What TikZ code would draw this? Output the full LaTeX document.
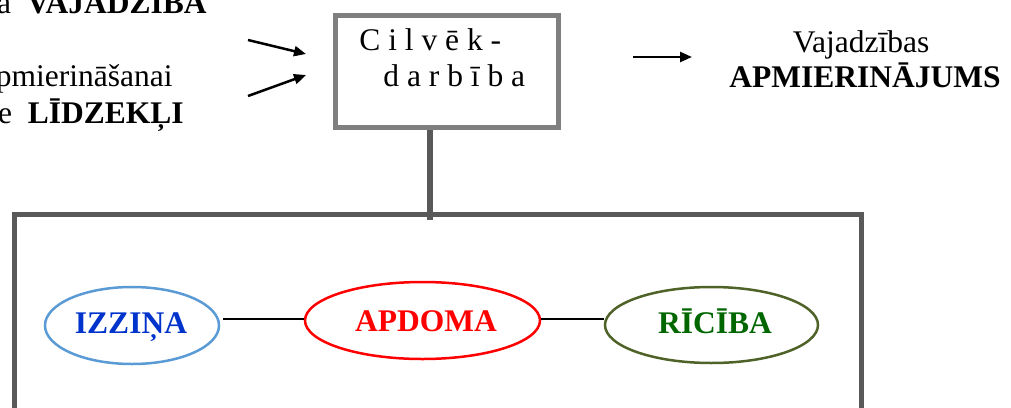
\documentclass[tikz,border=0pt]{standalone}
\usepackage{fontspec}
\setmainfont{Liberation Serif}
\usetikzlibrary{arrows.meta,shapes.geometric}
\definecolor{boxgray}{HTML}{7F7F7F}
\definecolor{darkgray}{HTML}{595959}
\definecolor{izblue}{HTML}{0033CC}
\definecolor{izborder}{HTML}{5B9BD5}
\definecolor{ricgreen}{HTML}{006600}
\definecolor{ricborder}{HTML}{4F6228}
\tikzset{
  txt/.style={inner sep=0pt, font=\fontsize{15.75}{18}\selectfont},
  arr/.style={line width=1.25pt, -{Triangle[length=6pt,width=5pt]}},
  oval/.style={ellipse, line width=1.25pt, inner sep=0pt},
  ovaltxt/.style={inner sep=0pt, anchor=base, font=\fontsize{15.75}{18}\selectfont\bfseries},
  link/.style={line width=1pt, black}
}
\begin{document}
\begin{tikzpicture}[x=0.5pt,y=-0.5pt]
\useasboundingbox (0,0) rectangle (1011,407);
% left texts
\node[txt, anchor=base east] (need) at (207,13) {a\ \ \textbf{VAJADZĪBA}};
\node[txt, anchor=base east] (satisf) at (173,86) {apmierināšanai};
\node[txt, anchor=base east] (means) at (184,123) {e\ \ \textbf{LĪDZEKĻI}};
% human activity box
\node[draw=boxgray, line width=2.5pt, minimum width=111.5pt, minimum height=56pt, inner sep=0pt] (box) at (446.5,71) {};
\node[txt, anchor=base west] (t1) at (359,50) {C i l v ē k -};
\node[txt, anchor=base west] (t2) at (383,86) {d a r b ī b a};
% arrows into box
\coordinate (a1s) at (248,40);
\coordinate (a1e) at (306,54);
\coordinate (a2s) at (248,96);
\coordinate (a2e) at (306,75);
\draw[arr] (a1s) -- (a1e);
\draw[arr] (a2s) -- (a2e);
% arrow out
\coordinate (a3s) at (633,57);
\coordinate (a3e) at (692,57);
\draw[arr] (a3s) -- (a3e);
% right text
\node[txt, anchor=base] (res1) at (861,52) {Vajadzības};
\node[txt, anchor=base] (res2) at (865,87) {\textbf{APMIERINĀJUMS}};
% big box
\node[draw=darkgray, line width=2.5pt, minimum width=423.5pt, minimum height=112.75pt, inner sep=0pt] (big) at (438,327) {};
% connector
\coordinate (cx) at (430,0);
\draw[darkgray, line width=3pt] (box.south -| cx) -- ([yshift=-4pt]big.north -| cx);
% ellipses
\node[oval, draw=izborder, minimum width=87pt, minimum height=38.5pt] (izz) at (132,325.5) {};
\node[oval, draw=red, minimum width=117.5pt, minimum height=38.5pt] (apd) at (422.5,320.5) {};
\node[oval, draw=ricborder, minimum width=106.5pt, minimum height=38pt] (ric) at (711.5,325) {};
\node[ovaltxt, text=izblue] (izzt) at (131,333) {IZZIŅA};
\node[ovaltxt, text=red] (apdt) at (426,331) {APDOMA};
\node[ovaltxt, text=ricgreen] (rict) at (715,333) {RĪCĪBA};
\draw[link] (izz.east |- 0,319) ++(3,0) -- (apd.west |- 0,319);
\draw[link] (apd.east |- 0,319) -- (ric.west |- 0,319);
\end{tikzpicture}
\end{document}
